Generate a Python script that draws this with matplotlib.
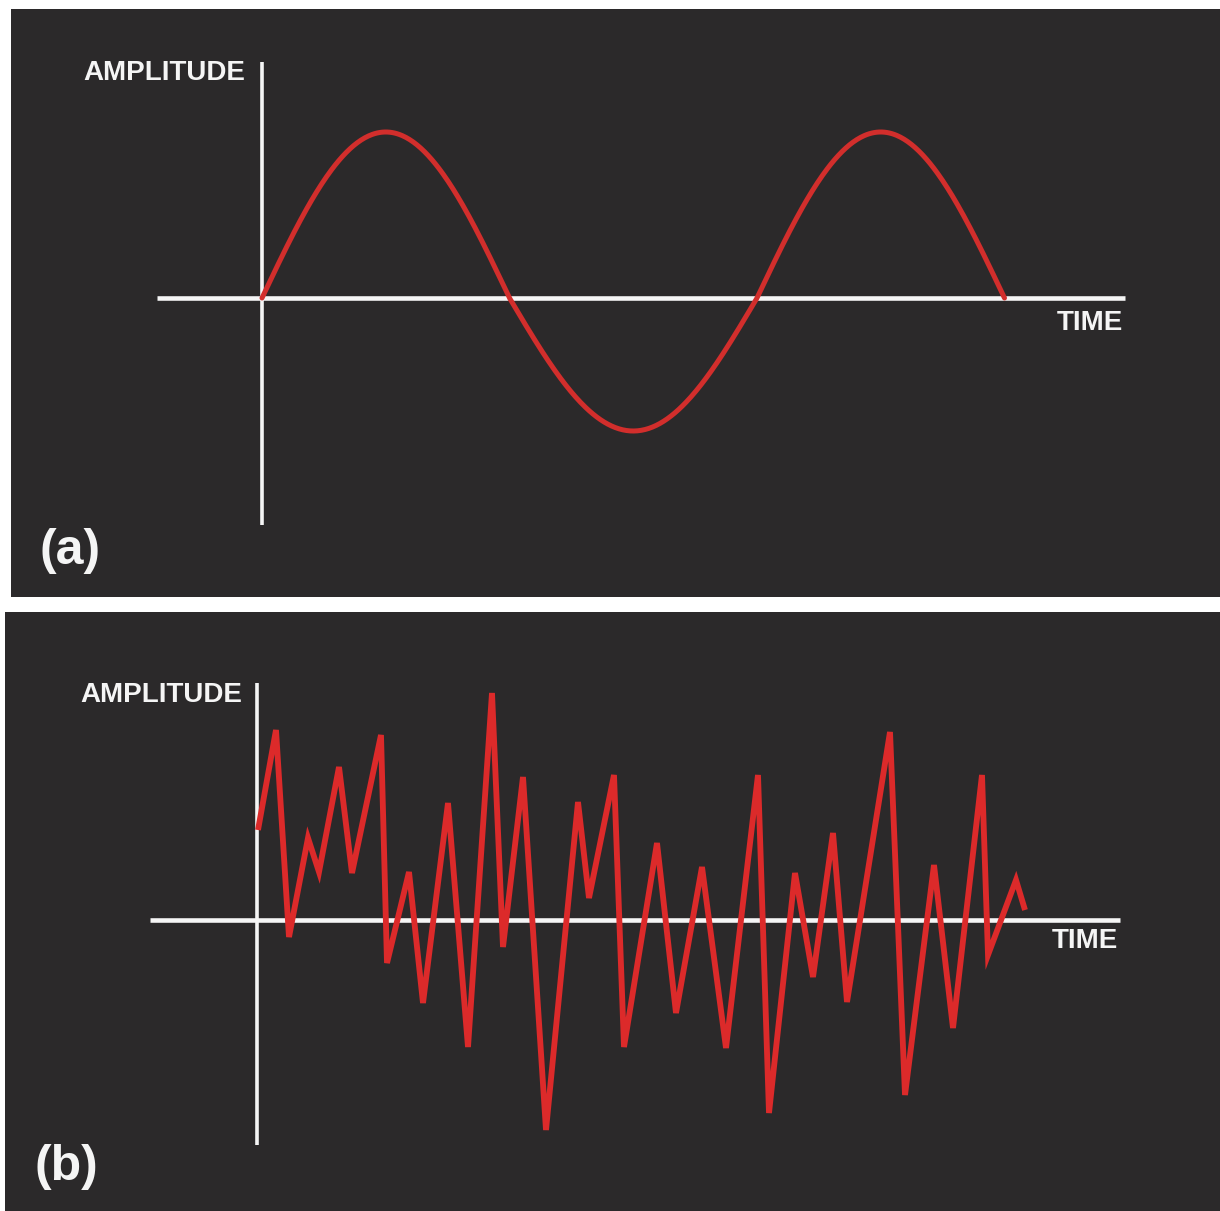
import numpy as np
import matplotlib
matplotlib.use("Agg")
import matplotlib.pyplot as plt

# ---------------- data ----------------
# (a) pure tone: 1.5 cycles of a sine wave (units: time & amplitude, arbitrary)
sine_period = 4.95
sine_cycles = 1.5
sine_amp_pos = 1.66
sine_amp_neg = 1.33

# (b) complex wave: vertices
time_b = [0.01, 0.19, 0.32, 0.51, 0.62, 0.82, 0.95, 1.24, 1.30, 1.52,
          1.66, 1.91, 2.11, 2.35, 2.46, 2.66, 2.89, 3.21, 3.32, 3.57,
          3.67, 4.00, 4.19, 4.45, 4.69, 5.01, 5.12, 5.38, 5.56, 5.76,
          5.90, 6.33, 6.48, 6.77, 6.96, 7.25, 7.31, 7.59, 7.68]
amp_b = [0.90, 1.90, -0.17, 0.82, 0.48, 1.53, 0.47, 1.85, -0.43, 0.48,
         -0.83, 1.17, -1.27, 2.27, -0.27, 1.43, -2.10, 1.18, 0.22, 1.45,
         -1.27, 0.77, -0.93, 0.53, -1.28, 1.45, -1.93, 0.47, -0.57, 0.87,
         -0.82, 1.88, -1.75, 0.55, -1.08, 1.45, -0.35, 0.40, 0.10]

labels_y = "AMPLITUDE"
labels_x = "TIME"
panel_tags = ["(a)", "(b)"]

# ---------------- style ----------------
W, H = 1220, 1211
BG = "#2b292a"
WHITE = "#f5f5f5"
FONT = ["Liberation Sans", "DejaVu Sans"]

fig = plt.figure(figsize=(W / 100, H / 100), dpi=100, facecolor="white")


def make_axes(px_left, px_top, px_right, px_bottom, ox, oy, scale=100.0):
    ax = fig.add_axes([px_left / W, 1 - px_bottom / H,
                       (px_right - px_left) / W, (px_bottom - px_top) / H])
    ax.set_facecolor(BG)
    ax.set_xlim((px_left - ox) / scale, (px_right - ox) / scale)
    ax.set_ylim((oy - px_bottom) / scale, (oy - px_top) / scale)
    ax.set_xticks([])
    ax.set_yticks([])
    for s in ax.spines.values():
        s.set_visible(False)
    return ax


def draw_frame(ax, hx, vy, tag, amp_pos, time_pos, tag_pos):
    ax.plot(hx, [0, 0], color=WHITE, lw=3.3, solid_capstyle="butt", zorder=2)
    ax.plot([0, 0], vy, color=WHITE, lw=2.6, solid_capstyle="butt", zorder=2)
    ax.text(amp_pos[0], amp_pos[1], labels_y, color=WHITE, fontsize=20,
            fontweight="bold", family=FONT, ha="right", va="center")
    ax.text(time_pos[0], time_pos[1], labels_x, color=WHITE, fontsize=20,
            fontweight="bold", family=FONT, ha="right", va="center")
    ax.text(tag_pos[0], tag_pos[1], tag, color=WHITE, fontsize=36,
            fontweight="bold", family=FONT, ha="left", va="center")


# ---- panel (a)
ax_a = make_axes(11, 9, 1220, 597, 262, 298)
draw_frame(ax_a, [-1.05, 8.63], [2.36, -2.27], panel_tags[0],
           (-0.17, 2.25), (8.61, -0.25), (-2.23, -2.53))
t = np.linspace(0, sine_period * sine_cycles, 600)
s = np.sin(2 * np.pi * t / sine_period)
y = np.where(s >= 0, s * sine_amp_pos, s * sine_amp_neg)
ax_a.plot(t, y, color="#d22e2c", lw=3.6, solid_capstyle="round", zorder=3)

# ---- panel (b)
ax_b = make_axes(5, 612, 1220, 1211, 257, 920)
draw_frame(ax_b, [-1.07, 8.63], [2.37, -2.25], panel_tags[1],
           (-0.15, 2.25), (8.61, -0.21), (-2.22, -2.47))
ax_b.plot(time_b, amp_b, color="#dc2a2a", lw=4.2, solid_joinstyle="miter",
          solid_capstyle="butt", zorder=3)

fig.savefig("out.png", dpi=100, facecolor="white")
